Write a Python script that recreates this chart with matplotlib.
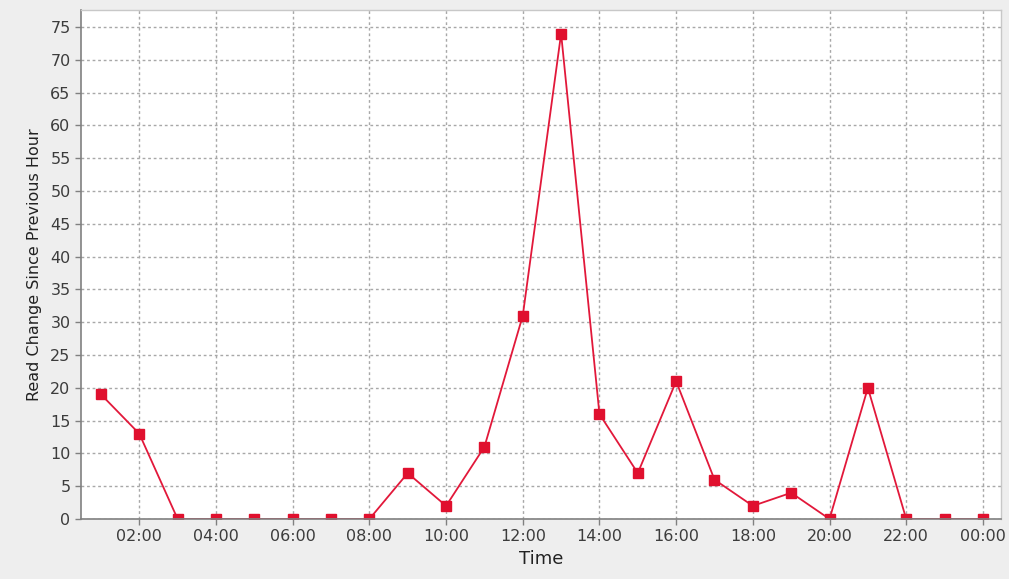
import matplotlib
matplotlib.use('Agg')
import matplotlib.pyplot as plt

hours = list(range(1, 25))
reads = [19, 13, 0, 0, 0, 0, 0, 0, 7, 2, 11, 31, 74, 16, 7, 21, 6, 2, 4, 0, 20, 0, 0, 0]
tick_hours = list(range(2, 25, 2))
tick_labels = ['%02d:00' % (h % 24) for h in tick_hours]
y_ticks = list(range(0, 80, 5))

fig = plt.figure(figsize=(10.09, 5.79), dpi=100, facecolor='#eeeeee')
ax = fig.add_axes([0.0803, 0.1036, 0.9117, 0.8791])
ax.set_facecolor('white')

ax.plot(hours, reads, color='#e2183a', linewidth=1.3, marker='s',
        markersize=7.5, markerfacecolor='#e0102e', markeredgecolor='#e0102e')

ax.set_xlim(0.48, 24.47)
ax.set_ylim(0, 77.6)
ax.set_xticks(tick_hours)
ax.set_xticklabels(tick_labels)
ax.set_yticks(y_ticks)

# dotted-dashed grid like the original chart
ax.grid(True, color='#a8a8a8', linestyle=(0, (2, 2)), linewidth=1.0)
ax.set_axisbelow(True)

for side in ['top', 'right']:
    ax.spines[side].set_color('#c8c8c8')
    ax.spines[side].set_linewidth(1.0)
for side in ['left', 'bottom']:
    ax.spines[side].set_color('#808080')
    ax.spines[side].set_linewidth(1.2)

ax.tick_params(axis='both', labelsize=11.5, colors='#808080', labelcolor='#3c3c3c',
               length=4, width=1)
ax.set_xlabel('Time', fontsize=13, color='#222222', labelpad=4)
ax.set_ylabel('Read Change Since Previous Hour', fontsize=11.5, color='#222222', labelpad=6)

fig.savefig('out.png', dpi=100, facecolor=fig.get_facecolor())
